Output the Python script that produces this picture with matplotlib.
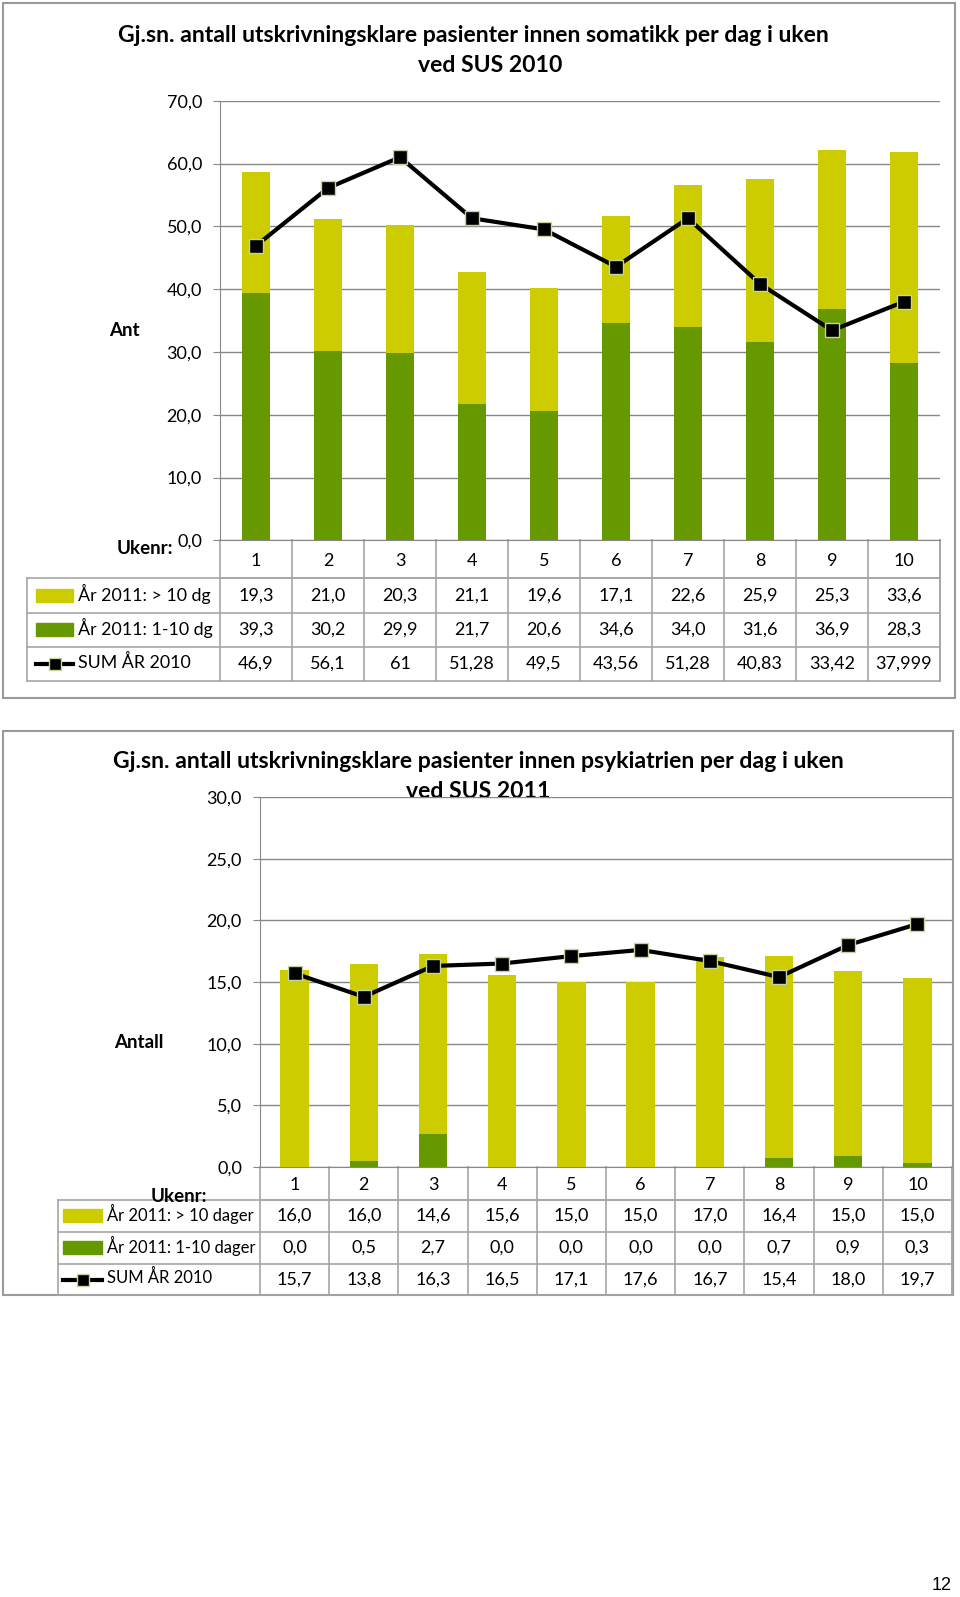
import numpy as np
import matplotlib
matplotlib.use("Agg")
import matplotlib.pyplot as plt
from matplotlib.patches import Rectangle
from matplotlib.transforms import blended_transform_factory

plt.rcParams['font.family'] = ['Lato', 'DejaVu Sans']

# Chart 1: somatikk
uker = [1, 2, 3, 4, 5, 6, 7, 8, 9, 10]
som_over10 = [19.3, 21.0, 20.3, 21.1, 19.6, 17.1, 22.6, 25.9, 25.3, 33.6]
som_1til10 = [39.3, 30.2, 29.9, 21.7, 20.6, 34.6, 34.0, 31.6, 36.9, 28.3]
som_sum2010 = [46.9, 56.1, 61, 51.28, 49.5, 43.56, 51.28, 40.83, 33.42, 37.999]

# Chart 2: psykiatri
psy_over10 = [16.0, 16.0, 14.6, 15.6, 15.0, 15.0, 17.0, 16.4, 15.0, 15.0]
psy_1til10 = [0.0, 0.5, 2.7, 0.0, 0.0, 0.0, 0.0, 0.7, 0.9, 0.3]
psy_sum2010 = [15.7, 13.8, 16.3, 16.5, 17.1, 17.6, 16.7, 15.4, 18.0, 19.7]

YELLOW = '#CCCC00'
GREEN = '#669900'
GRID = '#888888'
TLINE = '#A6A6A6'
MEC = '#C3D69B'

W, H = 960, 1597
fig = plt.figure(figsize=(W / 100, H / 100), dpi=100)
page = fig.add_axes([0, 0, 1, 1], zorder=0)
page.set_xlim(0, W)
page.set_ylim(H, 0)
page.axis('off')


def comma(v, fmt):
    return format(v, fmt).replace('.', ',')


def draw_chart(title1, title2, ylab, rowlabels, yellow, green, sums, sumfmt,
               box, plot, ymax, step, t1, t2, ylab_xy, uk_xy, uk_ha,
               tleft, rows, key, barw, hpad, labsize):
    # outer frame
    bx0, by0, bx1, by1 = box
    page.add_patch(Rectangle((bx0, by0), bx1 - bx0, by1 - by0, fill=False,
                             ec='#9A9A9A', lw=1.5))
    px0, px1, py0, py1 = plot
    ax = fig.add_axes([px0 / W, 1 - py1 / H, (px1 - px0) / W, (py1 - py0) / H],
                      zorder=2)
    ax.patch.set_alpha(0)
    x = np.arange(len(uker))
    ax.bar(x, green, barw, color=GREEN, zorder=2)
    ax.bar(x, yellow, barw, bottom=green, color=YELLOW, zorder=2)
    ax.plot(x, sums, color='black', lw=3, marker='s', ms=10, mfc='black',
            mec=MEC, mew=1, zorder=3, clip_on=False)
    ax.set_xlim(-0.5, len(uker) - 0.5)
    ax.set_ylim(0, ymax)
    yt = np.arange(0, ymax + step / 2, step)
    ax.set_yticks(yt)
    ax.set_yticklabels([comma(v, '.1f') for v in yt], fontsize=13)
    ax.set_xticks(x)
    ax.set_xticklabels([str(u) for u in uker], fontsize=13)
    ax.tick_params(axis='x', length=0, pad=hpad)
    ax.tick_params(axis='y', length=5, color=GRID, pad=8)
    ax.yaxis.grid(True, color=GRID, lw=1)
    ax.set_axisbelow(True)
    for s in ['top', 'right']:
        ax.spines[s].set_visible(False)
    ax.spines['left'].set_color(GRID)
    ax.spines['bottom'].set_color(GRID)

    # titles and labels
    page.text(t1[0], t1[1], title1, ha='center', va='center', fontsize=16.6,
              fontweight='bold', zorder=5)
    page.text(t2[0], t2[1], title2, ha='center', va='center', fontsize=16.6,
              fontweight='bold', zorder=5)
    page.text(ylab_xy[0], ylab_xy[1], ylab, ha='center', va='center',
              fontsize=13.5, fontweight='bold')
    page.text(uk_xy[0], uk_xy[1], 'Ukenr:', ha=uk_ha, va='center',
              fontsize=13.5, fontweight='bold', zorder=5)

    # data table
    hy0 = py1
    hy1 = rows[0]
    page.plot([px0, px1], [hy1, hy1], color=TLINE, lw=1.2)
    for j in range(len(uker) + 1):
        xv = px0 + j * (px1 - px0) / len(uker)
        page.plot([xv, xv], [hy0, rows[-1]], color=TLINE, lw=1.2)
    page.plot([tleft, tleft], [rows[0], rows[-1]], color=TLINE, lw=1.2)
    for yv in rows:
        page.plot([tleft, px1], [yv, yv], color=TLINE, lw=1.2)
    page.plot([px1, px1], [hy0, rows[-1]], color=TLINE, lw=1.2)

    tr = blended_transform_factory(ax.transData, page.transData)
    series = [(yellow, '.1f'), (green, '.1f'), (sums, sumfmt)]
    for r, (vals, fmt) in enumerate(series):
        yc = (rows[r] + rows[r + 1]) / 2
        for j, v in enumerate(vals):
            ax.text(x[j], yc, comma(v, fmt), transform=tr, ha='center',
                    va='center', fontsize=13, clip_on=False)
        k0, k1, tx = key
        if r < 2:
            page.add_patch(Rectangle((k0, yc - 7), k1 - k0, 13,
                                     color=[YELLOW, GREEN][r]))
        else:
            page.plot([k0, k1], [yc, yc], color='black', lw=3)
            page.plot([(k0 + k1) / 2], [yc], marker='s', ms=8, color='black',
                      mec=MEC, mew=1)
        page.text(tx, yc - 2, rowlabels[r], ha='left', va='center',
                  fontsize=labsize)
    return ax


draw_chart('Gj.sn. antall utskrivningsklare pasienter innen somatikk per dag i uken',
           'ved SUS 2010', 'Ant',
           ['År 2011: > 10 dg', 'År 2011: 1-10 dg', 'SUM ÅR 2010'],
           som_over10, som_1til10, som_sum2010, 'g',
           box=(3, 3, 955, 698), plot=(220, 940, 100.7, 540.3), ymax=70, step=10,
           t1=(473, 36), t2=(490, 66), ylab_xy=(124, 331), uk_xy=(173, 548),
           uk_ha='right', tleft=27, rows=[578, 613, 647, 681],
           key=(36, 73, 78), barw=0.4, hpad=9, labsize=12.8)

draw_chart('Gj.sn. antall utskrivningsklare pasienter innen psykiatrien per dag i uken',
           'ved SUS 2011', 'Antall',
           ['År 2011: > 10 dager', 'År 2011: 1-10 dager', 'SUM ÅR 2010'],
           psy_over10, psy_1til10, psy_sum2010, '.1f',
           box=(3, 731, 953, 1295), plot=(260, 952, 797, 1167), ymax=30, step=5,
           t1=(478, 762), t2=(478, 792), ylab_xy=(139, 1043), uk_xy=(179, 1196),
           uk_ha='center', tleft=58, rows=[1199.5, 1232, 1264, 1295],
           key=(63, 102, 107), barw=0.41, hpad=7, labsize=12)

page.text(942, 1585, '12', ha='center', va='center', fontsize=13,
          family=['Liberation Sans', 'DejaVu Sans'])

fig.savefig('out.png', dpi=100)
